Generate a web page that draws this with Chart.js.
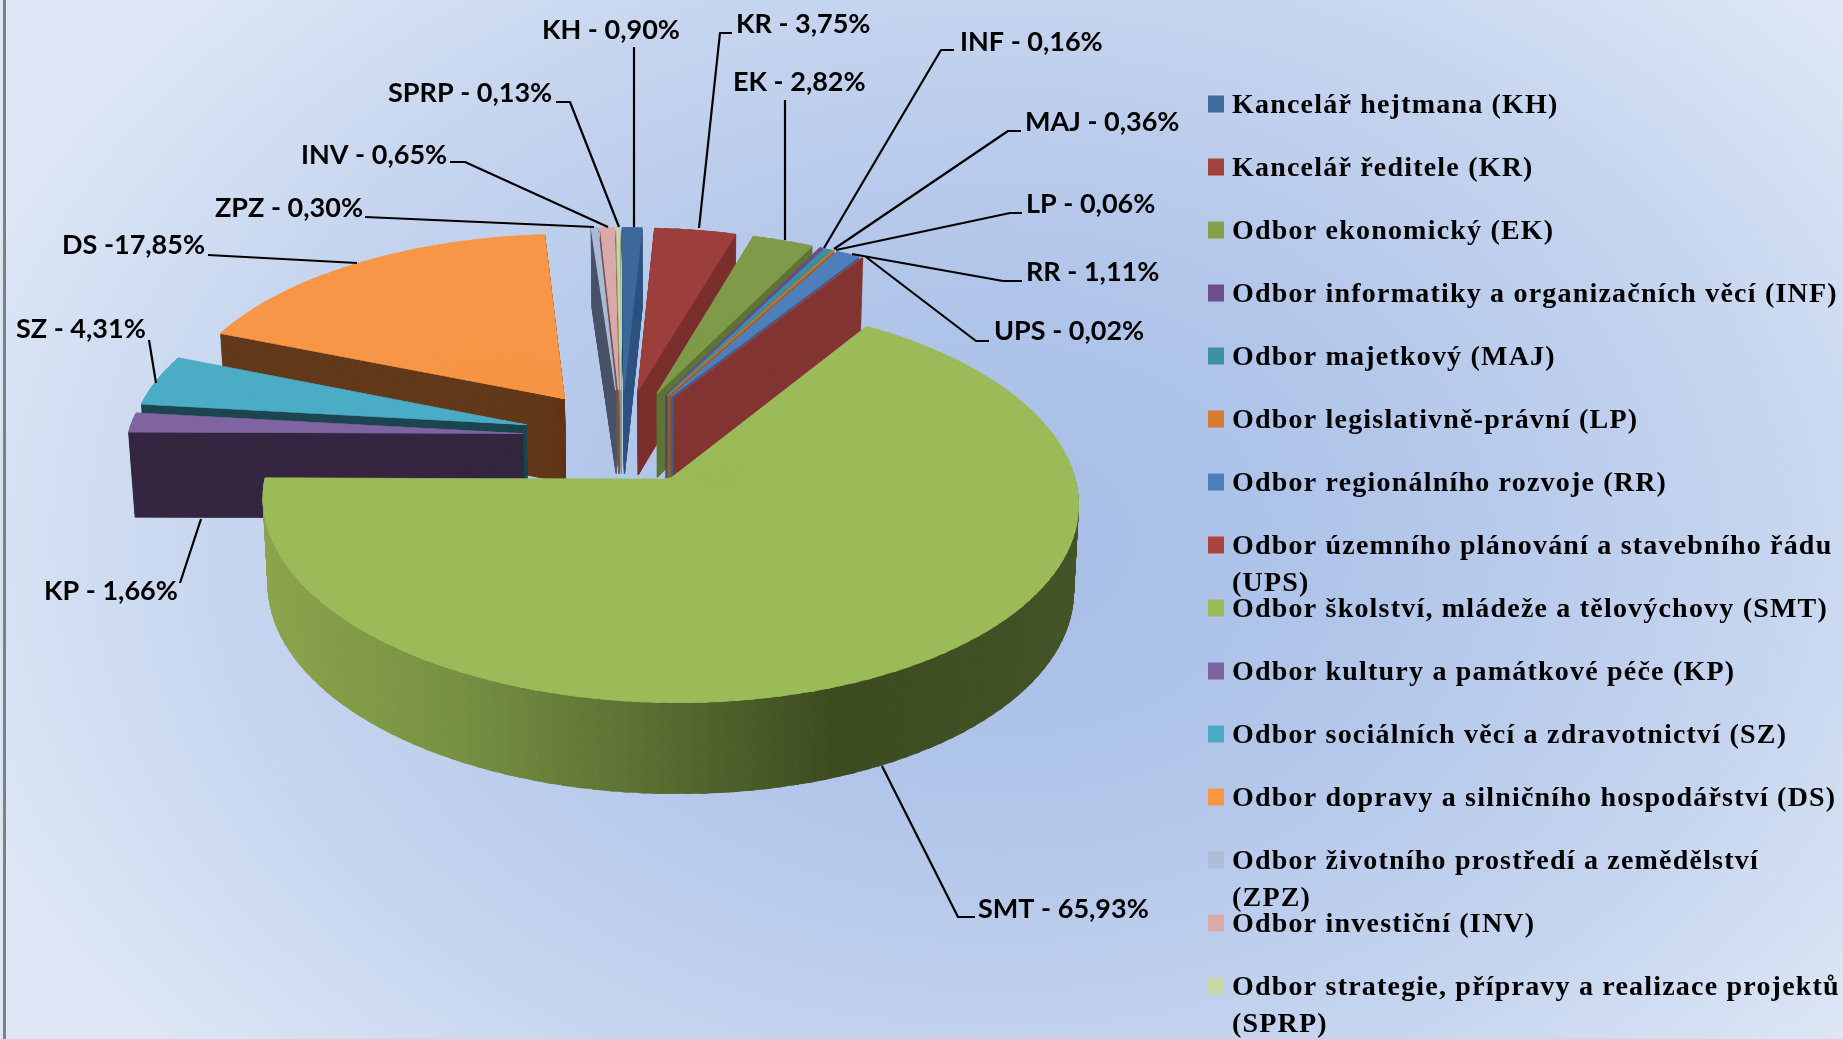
<!DOCTYPE html>
<html lang="cs"><head><meta charset="utf-8"><title>Podíl odborů</title>
<style>
html,body{margin:0;padding:0;width:1843px;height:1039px;overflow:hidden;background:#dfe8f6}
#bg{position:absolute;left:0;top:0;width:1843px;height:1039px;background:radial-gradient(ellipse 1100px 800px at 1000px 540px,#a6bde6 0%,#b2c6ea 35%,#c6d5ef 70%,#dde7f5 100%)}
#edge{position:absolute;left:3px;top:0;width:3px;height:1039px;background:#808080}
canvas{position:absolute;left:0;top:0;filter:blur(0.5px)}
</style>
<script src="https://cdn.jsdelivr.net/npm/chart.js@4/dist/chart.umd.min.js"></script>
</head><body><div id="bg"></div><div id="edge"></div>
<canvas id="c" width="1843" height="1039"></canvas>
<script>
const codes=['KH','KR','EK','INF','MAJ','LP','RR','UPS','SMT','KP','SZ','DS','ZPZ','INV','SPRP'];
const values=[0.90,3.75,2.82,0.16,0.36,0.06,1.11,0.02,65.93,1.66,4.31,17.85,0.30,0.65,0.13];
const legendLabels=[
 ['Kancelář hejtmana (KH)'],['Kancelář ředitele (KR)'],['Odbor ekonomický (EK)'],
 ['Odbor informatiky a organizačních věcí (INF)'],['Odbor majetkový (MAJ)'],['Odbor legislativně-právní (LP)'],
 ['Odbor regionálního rozvoje (RR)'],['Odbor územního plánování a stavebního řádu','(UPS)'],
 ['Odbor školství, mládeže a tělovýchovy (SMT)'],['Odbor kultury a památkové péče (KP)'],
 ['Odbor sociálních věcí a zdravotnictví (SZ)'],['Odbor dopravy a silničního hospodářství (DS)'],
 ['Odbor životního prostředí a zemědělství','(ZPZ)'],['Odbor investiční (INV)'],
 ['Odbor strategie, přípravy a realizace projektů','(SPRP)']];
const calloutLabels=['KH - 0,90%','KR - 3,75%','EK - 2,82%','INF - 0,16%','MAJ - 0,36%','LP - 0,06%','RR - 1,11%','UPS - 0,02%','SMT - 65,93%','KP - 1,66%','SZ - 4,31%','DS -17,85%','ZPZ - 0,30%','INV - 0,65%','SPRP - 0,13%'];
const topColors=['#3d6899','#9c3f3c','#7f9a48','#6b4d8a','#3d8ea3','#d0782e','#4f7fbb','#a8423f','#9bbb59','#8064a2','#4bacc6','#f79646','#aabad7','#d9aaa9','#c6d6a4'];
const wallColors=['#2f5480','#7b302e','#5f7535','#503a68','#2d6b7b','#a65c20','#3a6090','#833533','#566a30','#362741','#1e4651','#633a1b','#4a5568','#7a5555','#8a9a6c'];
const legendSwatches=['#3f6b9f','#a5403d','#83a04a','#6c4f8c','#3e90a6','#d67c30','#4b7ebc','#aa4340','#9bbb59','#7f62a1','#4aabc5','#f89845','#aebcd8','#dcaaa9','#c9d8a6'];
// layout of the callouts: text left, text middle, then the leader polyline
const calloutText=[[542,30],[736,24],[733,82],[960,42],[1025,122],[1026,204],[1026,272],[994,331],[978,909],[44,591],[16,329],[62,245],[215,208],[301,155],[388,93]];
const calloutLines=[
 [[634,47],[634,227]],[[732,33],[720,33],[699,228]],[[785,100],[785,240]],
 [[954,50],[941,50],[824,248]],[[1021,131],[1008,131],[834,249]],[[1022,213],[1010,213],[836,250]],
 [[1022,281],[1003,281],[852,254]],[[989,341],[976,341],[866,257]],[[975,917],[958,917],[882,766]],
 [[180,583],[201,519]],[[149,340],[156,383]],[[208,255],[357,263]],[[365,217],[594,227]],
 [[450,162],[465,162],[608,227]],[[556,102],[570,102],[619,227]]];
// view: perspective projection of the exploded pie
const VIEW={ox:670,oy:479,a:405,b:199,g:0.11,e:0.25,depth:86,hz:0.012,skew:7};
const wallStops=[[-1,[142,166,78]],[-0.5,[120,146,69]],[0,[86,106,48]],[0.35,[62,76,34]],[1,[70,86,42]]];
function wallShade(u){
  for(let i=1;i<wallStops.length;i++){
    if(u<=wallStops[i][0]){
      const [u0,c0]=wallStops[i-1],[u1,c1]=wallStops[i],k=(u-u0)/(u1-u0);
      return 'rgb('+c0.map((c,j)=>Math.round(c+(c1[j]-c)*k)).join(',')+')';
    }
  }
  return 'rgb(70,86,42)';
}
const pie3d={id:'pie3d',
 beforeDatasetsDraw(chart){
  const ctx=chart.ctx, arcs=chart.getDatasetMeta(0).data, V=VIEW;
  const big=values.indexOf(Math.max(...values));
  const bm=(arcs[big].startAngle+arcs[big].endAngle)/2;
  const u0=V.e*Math.cos(bm), v0=V.e*Math.sin(bm);
  const project=(u,v,t)=>{
    const w=1-V.g*(v-v0);
    return [V.ox+(V.a*(u-u0)*(1-V.hz*t)+V.skew*(v-v0))/w, V.oy+V.b*(v-v0)/w+t*V.depth/Math.sqrt(w)];
  };
  const order=arcs.map((a,i)=>i).sort((p,q)=>{
    const m=i=>(arcs[i].startAngle+arcs[i].endAngle)/2; return Math.sin(m(p))-Math.sin(m(q));});
  const STEP=2*Math.PI/180, REF=2*Math.PI/180, LAP=0.35*Math.PI/180, THIN=0.1*Math.PI/180;
  const drawPart=(arc,sa,ea,c,t,fill,bw)=>{
    const R=arc.outerRadius, m=(arc.startAngle+arc.endAngle)/2;
    const au=V.e*Math.cos(m), av=V.e*Math.sin(m);
    const a1=c-REF, a2=c+REF;
    const P=project(au,av,t),
          A=project(au+Math.cos(a1),av+Math.sin(a1),t),
          B=project(au+Math.cos(a2),av+Math.sin(a2),t);
    const px=R*Math.cos(a1),py=R*Math.sin(a1),qx=R*Math.cos(a2),qy=R*Math.sin(a2);
    const det=px*qy-qx*py;
    const dx1=A[0]-P[0],dy1=A[1]-P[1],dx2=B[0]-P[0],dy2=B[1]-P[1];
    const ma=(dx1*qy-dx2*py)/det, mc=(dx2*px-dx1*qx)/det;
    const mb=(dy1*qy-dy2*py)/det, md=(dy2*px-dy1*qx)/det;
    const e=P[0]-ma*arc.x-mc*arc.y, f=P[1]-mb*arc.x-md*arc.y;
    const el=Object.create(arc);
    el.options=Object.assign({},arc.options,{backgroundColor:fill,borderColor:fill,borderWidth:bw,offset:0,spacing:0});
    el.startAngle=sa; el.endAngle=ea; el.circumference=ea-sa; el.innerRadius=0; el.outerRadius=R;
    ctx.save(); ctx.setTransform(ma,mb,mc,md,e,f); el.draw(ctx); ctx.restore();
  };
  for(const i of order){
    const arc=arcs[i], span=arc.endAngle-arc.startAngle;
    const n=Math.max(1,Math.ceil(span/STEP));
    for(let L=V.depth;L>=0;L--){
      const t=L/V.depth;
      for(let k=0;k<n;k++){
        const sa=arc.startAngle+span*k/n, ea=arc.startAngle+span*(k+1)/n;
        const c=(sa+ea)/2;
        let fill=L===0?topColors[i]:wallColors[i];
        if(L>0&&i===big) fill=wallShade(Math.cos(c));
        drawPart(arc,k?sa-LAP:sa,k<n-1?ea+LAP:ea,c,t,fill,(L>0&&span<THIN)?3.4:1.6);
      }
    }
  }
  return false;
 },
 afterDraw(chart){
  const ctx=chart.ctx;
  ctx.save(); ctx.setTransform(1,0,0,1,0,0);
  ctx.strokeStyle='#000'; ctx.lineWidth=2.2; ctx.lineJoin='round';
  calloutLines.forEach(pts=>{ctx.beginPath();pts.forEach((p,j)=>j?ctx.lineTo(p[0],p[1]):ctx.moveTo(p[0],p[1]));ctx.stroke();});
  ctx.fillStyle='#000'; ctx.textBaseline='middle'; ctx.textAlign='left';
  ctx.font='bold 27px Lato';
  calloutLabels.forEach((s,i)=>ctx.fillText(s,calloutText[i][0],calloutText[i][1]));
  ctx.font='bold 28px "Liberation Serif"';
  ctx.letterSpacing='1.2px';
  legendLabels.forEach((lines,i)=>{
    const y=104.5+i*63;
    ctx.fillStyle=legendSwatches[i]; ctx.fillRect(1208,y-9,16,17);
    ctx.fillStyle='#000';
    lines.forEach((s,j)=>ctx.fillText(s,1232,y+1.5+j*36.5));
  });
  ctx.restore();
 }};
new Chart(document.getElementById('c'),{type:'pie',
 data:{labels:codes,datasets:[{data:values,backgroundColor:topColors,borderWidth:0}]},
 options:{responsive:false,animation:false,plugins:{legend:{display:false},tooltip:{enabled:false}}},
 plugins:[pie3d]});
</script></body></html>
